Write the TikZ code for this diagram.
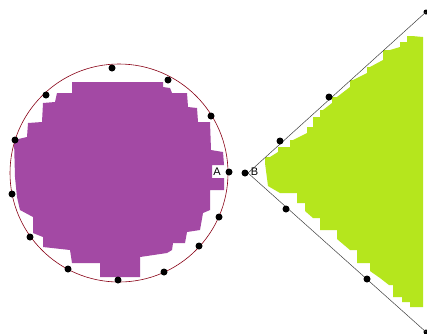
\documentclass[tikz,border=0pt]{standalone}
\usepackage{fontspec}
\setmainfont{Liberation Sans}
\begin{document}
\begin{tikzpicture}[x=1pt,y=-1pt,
  dot/.style={circle,fill=black,inner sep=0pt,minimum size=7pt},
  lbl/.style={inner sep=0pt,font=\fontsize{11}{13}\selectfont},
  ring/.style={draw=rimred,line width=0.6pt},
  ray/.style={draw=black!75,line width=0.5pt}]
\definecolor{purp}{RGB}{163,73,164}
\definecolor{lime}{RGB}{181,230,29}
\definecolor{rimred}{RGB}{136,0,21}
\fill[white] (0,0) rectangle (427,333);
\useasboundingbox (0,0) rectangle (427,333);
% purple region
\fill[purp] (72,82) -- (163,82) -- (163,87) -- (170,88) -- (172,93) -- (187,93) -- (188,107) -- (197,108) -- (198,122) -- (210,122) -- (211,150) -- (223,152) -- (224,165) -- (212,165) -- (212,178) -- (224,178) -- (224,190) -- (210,190) -- (210,210) -- (203,213) -- (200,230) -- (187,232) -- (185,243) -- (173,243) -- (172,250) -- (167,253) -- (140,257) -- (140,277) -- (100,277) -- (100,263) -- (72,263) -- (70,250) -- (43,247) -- (43,237) -- (33,233) -- (33,217) -- (20,210) -- (17,197) -- (15,177) -- (14,140) -- (27,137) -- (28,123) -- (42,122) -- (43,103) -- (55,102) -- (57,93) -- (72,93) -- cycle;
% green region
\fill[lime] (265,163) |- (270,157) -- (278,152) |- (290,147) |- (293,140) -- (307,133) |- (313,127) |- (320,117) |- (323,110) -- (332,103) |- (337,97) -- (350,87) |- (353,80) -- (367,73) |- (370,67) -- (383,60) |- (390,50) -- (400,47) |- (407,42) |- (412,36) -- (423,37)
  -- (423,307) -- (410,307) |- (402,302) |- (393,297) |- (389,285) -- (380,278) -- (370,271) |- (357,263) |- (350,250) -- (337,239) |- (320,230) |- (313,218) -- (305,211) |- (297,203) |- (293,193) -- (280,193) -- (268,186) -- cycle;
% circle
\coordinate (c) at (119,173);
\draw[ring] (c) circle[radius=109];
% wedge
\coordinate (apex) at (248,173);
\node[dot,minimum size=5pt] (tend) at (426,12) {};
\node[dot,minimum size=5pt] (bend) at (426,332) {};
\draw[ray] (apex) -- (tend.center);
\draw[ray] (apex) -- (bend.center);
% dots on circle
\node[dot] (p1) at (112,68) {};
\node[dot] (p2) at (168,80) {};
\node[dot] (p3) at (46,95) {};
\node[dot] (p4) at (211,116) {};
\node[dot] (p5) at (15,140) {};
\node[dot] (pa) at (229,172) {};
\node[dot] (p6) at (12,194) {};
\node[dot] (p7) at (219,217) {};
\node[dot] (p8) at (30,237) {};
\node[dot] (p9) at (199,246) {};
\node[dot] (p10) at (68,269) {};
\node[dot] (p11) at (164,272) {};
\node[dot] (p12) at (118,280) {};
% dots on wedge
\node[dot] (pb) at (245,173) {};
\node[dot] (q1) at (329,97) {};
\node[dot] (q2) at (280,141) {};
\node[dot] (q3) at (286,209) {};
\node[dot] (q4) at (367,279) {};
% labels
\node[lbl] (la) at (217,172) {A};
\node[lbl] (lb) at (254.5,172) {B};
\end{tikzpicture}
\end{document}
